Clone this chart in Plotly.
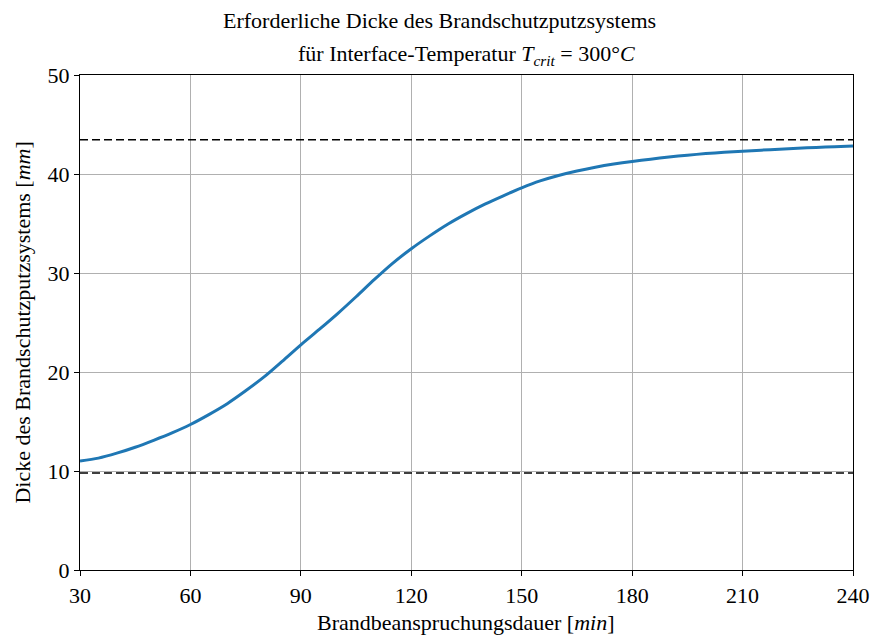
import plotly.graph_objects as go

# Data
dauer_min = [30, 35, 40, 45, 50, 55, 60, 65, 70, 75, 80, 85, 90, 95, 100, 105, 110,
             115, 120, 125, 130, 135, 140, 145, 150, 155, 160, 165, 170, 175, 180,
             185, 190, 195, 200, 205, 210, 215, 220, 225, 230, 235, 240]
dicke_mm = [11.0, 11.3, 11.8, 12.4, 13.1, 13.85, 14.7, 15.7, 16.8, 18.1, 19.5, 21.1,
            22.75, 24.3, 25.9, 27.6, 29.35, 31.0, 32.45, 33.75, 34.95, 36.0, 36.95,
            37.8, 38.6, 39.3, 39.85, 40.3, 40.68, 41.0, 41.27, 41.5, 41.72, 41.9,
            42.06, 42.19, 42.3, 42.41, 42.51, 42.6, 42.68, 42.75, 42.82]
grenze_oben = 43.45
grenze_unten = 9.8
x_ticks = [30, 60, 90, 120, 150, 180, 210, 240]
y_ticks = [0, 10, 20, 30, 40, 50]

FONT = "Liberation Serif"
FS = 22

fig = go.Figure()
for g in (grenze_oben, grenze_unten):
    fig.add_trace(go.Scatter(x=[dauer_min[0], dauer_min[-1]], y=[g, g], mode="lines",
                             line=dict(color="black", width=1.5, dash="8px,4px"),
                             showlegend=False, hoverinfo="skip"))
fig.add_trace(go.Scatter(x=dauer_min, y=dicke_mm, mode="lines",
                         line=dict(color="#1f77b4", width=3, shape="spline", smoothing=0.8),
                         showlegend=False))

axis_common = dict(showline=True, linecolor="black", linewidth=1.2, mirror=True,
                   ticks="outside", ticklen=5, tickwidth=1.2, tickcolor="black",
                   showgrid=True, gridcolor="#b0b0b0", gridwidth=1, zeroline=False,
                   automargin=False,
                   tickfont=dict(family=FONT, size=FS, color="black"))

fig.update_xaxes(range=[30, 240], tickvals=x_ticks, **axis_common)
fig.update_yaxes(range=[0, 50], tickvals=y_ticks, **axis_common)

txt = dict(xref="paper", yref="paper", showarrow=False,
           font=dict(family=FONT, size=FS, color="black"))
fig.add_annotation(text="Erforderliche Dicke des Brandschutzputzsystems",
                   x=0.4657, y=1.111, xanchor="center", yanchor="middle", **txt)
fig.add_annotation(text="für Interface-Temperatur <i>T</i><sub><i>crit</i></sub> = 300°<i>C</i>",
                   x=0.4994, y=1.040, xanchor="center", yanchor="middle", **txt)
fig.add_annotation(text="Brandbeanspruchungsdauer [<i>min</i>]",
                   x=0.4994, y=-0.106, xanchor="center", yanchor="middle", **txt)
fig.add_annotation(text="Dicke des Brandschutzputzsystems [<i>mm</i>]", textangle=-90,
                   x=-0.075, y=0.5, xanchor="center", yanchor="middle", **txt)

fig.update_layout(width=872, height=637, margin=dict(l=80, r=19, t=75, b=67),
                  paper_bgcolor="white", plot_bgcolor="white",
                  font=dict(family=FONT, size=FS, color="black"))

fig.write_html("out.html")
